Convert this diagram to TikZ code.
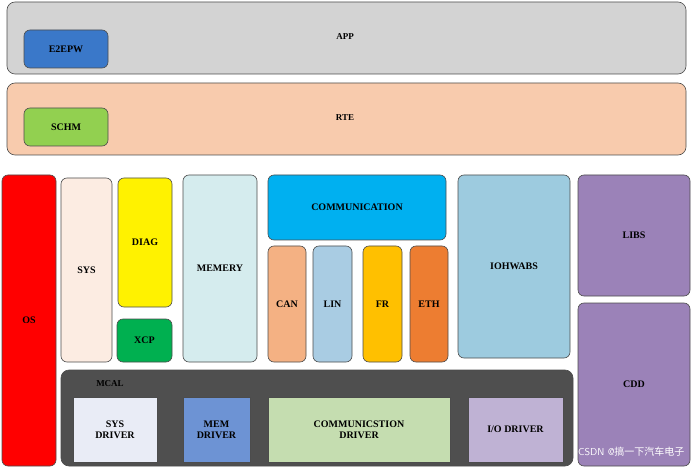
\documentclass[tikz,border=0pt]{standalone}
\usepackage{fontspec}
\setmainfont{Liberation Serif}
\newfontfamily\cjk{Noto Sans CJK SC}
\begin{document}
\begin{tikzpicture}[x=1pt,y=-1pt,
  blk/.style={draw=black!70,line width=0.6pt,rounded corners=6pt,font=\bfseries\fontsize{10}{11}\selectfont,align=center},
  lay/.style={draw=black!70,line width=0.6pt,rounded corners=8pt}]
\useasboundingbox (0,0) rectangle (693,470);
\definecolor{cApp}{HTML}{D3D3D3}\definecolor{cE2E}{HTML}{3A78C9}
\definecolor{cRte}{HTML}{F8CBAD}\definecolor{cSchm}{HTML}{92D050}
\definecolor{cSys}{HTML}{FCECE2}\definecolor{cXcp}{HTML}{00B050}
\definecolor{cMem}{HTML}{D5ECEE}\definecolor{cCom}{HTML}{00B0F0}
\definecolor{cCan}{HTML}{F4B183}\definecolor{cLin}{HTML}{A9CCE3}
\definecolor{cFr}{HTML}{FFC000}\definecolor{cEth}{HTML}{ED7D31}
\definecolor{cIoh}{HTML}{9DCBDF}\definecolor{cLib}{HTML}{9B82B8}
\definecolor{cMcal}{HTML}{4F4F4F}\definecolor{cSysD}{HTML}{E9ECF6}
\definecolor{cMemD}{HTML}{6D93D4}\definecolor{cComD}{HTML}{C5DDB0}
\definecolor{cIoD}{HTML}{BFB2D4}
\draw[lay,fill=cApp] (7,2) rectangle (686,74);
\node[font=\bfseries\small] (app) at (345,37) {APP};
\node[blk,fill=cE2E,minimum width=84pt,minimum height=38pt] (e2e) at (66,49) {E2EPW};
\draw[lay,fill=cRte] (7,83) rectangle (686,155);
\node[font=\bfseries\small] (rte) at (345,118) {RTE};
\node[blk,fill=cSchm,minimum width=84pt,minimum height=38pt] (schm) at (66,127) {SCHM};
\newcommand\bx[6]{\draw[blk,fill=#5] (#1,#2) rectangle (#3,#4); \node[font=\bfseries\fontsize{10}{11}\selectfont,align=center] (#6) at ({(#1+#3)/2},{(#2+#4)/2})}
\bx{2}{175}{56}{466}{red}{os}{OS};
\bx{61}{178}{112}{362}{cSys}{sys}{SYS};
\bx{118}{178}{172}{307}{yellow}{diag}{DIAG};
\bx{117}{319}{172}{362}{cXcp}{xcp}{XCP};
\bx{183}{175}{257}{362}{cMem}{mem}{MEMERY};
\bx{268}{175}{446}{240}{cCom}{com}{COMMUNICATION};
\bx{268}{246}{306}{362}{cCan}{can}{CAN};
\bx{313}{246}{352}{362}{cLin}{lin}{LIN};
\bx{363}{246}{402}{362}{cFr}{fr}{FR};
\bx{410}{246}{448}{362}{cEth}{eth}{ETH};
\bx{458}{175}{570}{358}{cIoh}{ioh}{IOHWABS};
\bx{578}{175}{690}{296}{cLib}{libs}{LIBS};
\bx{578}{303}{690}{466}{cLib}{cdd}{CDD};
\draw[lay,fill=cMcal] (61,370) rectangle (573,466);
\node[font=\bfseries\small] (mcal) at (110,384) {MCAL};
\newcommand\dx[6]{\draw[draw=black!70,line width=0.6pt,fill=#5] (#1,#2) rectangle (#3,#4); \node[font=\bfseries\fontsize{10}{11}\selectfont,align=center] (#6) at ({(#1+#3)/2},{(#2+#4)/2})}
\dx{73}{397}{157}{462}{cSysD}{sysd}{SYS\\DRIVER};
\dx{183}{397}{250}{462}{cMemD}{memd}{MEM\\DRIVER};
\dx{268}{397}{450}{462}{cComD}{comd}{COMMUNICSTION\\DRIVER};
\dx{468}{397}{563}{462}{cIoD}{iod}{I/O DRIVER};
\node[text=white,font=\sffamily\fontsize{10}{11}\selectfont,anchor=east] (wm) at (688,452) {CSDN @{\cjk 搞一下汽车电子}};
\end{tikzpicture}
\end{document}
